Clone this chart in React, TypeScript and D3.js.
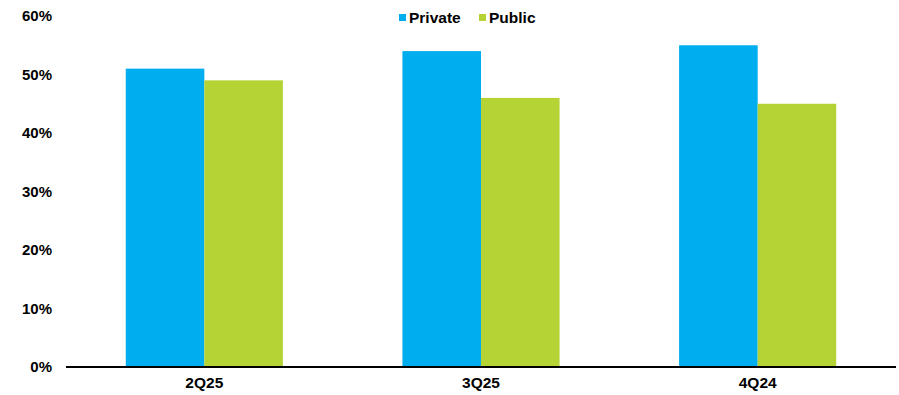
import React from "react";
import * as d3 from "d3";

const categories = ["2Q25", "3Q25", "4Q24"];
const seriesNames = ["Private", "Public"];
const privateValues = [51, 54, 55];
const publicValues = [49, 46, 45];
const yTicks = [0, 10, 20, 30, 40, 50, 60];
const colors = ["#00AEEF", "#B5D335"];

const W = 899;
const H = 395;
const margin = { top: 16, right: 3, bottom: 28, left: 66 };

export default function App() {
  const x = d3
    .scaleBand<string>()
    .domain(categories)
    .range([margin.left, W - margin.right])
    .paddingInner(0.432)
    .paddingOuter(0.216);
  const x1 = d3.scaleBand<string>().domain(seriesNames).range([0, x.bandwidth()]);
  const y = d3.scaleLinear().domain([0, 60]).range([H - margin.bottom, margin.top]);
  const series = [privateValues, publicValues];
  const font = "'Liberation Sans', Arial, sans-serif";

  return (
    <svg width={W} height={H} style={{ position: "absolute", left: 0, top: 0 }} fontFamily={font}>
      <rect width={W} height={H} fill="#fff" />
      {yTicks.map((t) => (
        <text key={t} x={52} y={y(t)} dy="0.35em" textAnchor="end" fontSize={15} fontWeight="bold" fill="#000">
          {t}%
        </text>
      ))}
      {categories.map((c, i) =>
        seriesNames.map((s, j) => (
          <rect
            key={c + s}
            x={(x(c) ?? 0) + (x1(s) ?? 0)}
            y={y(series[j][i])}
            width={x1.bandwidth()}
            height={y(0) - y(series[j][i])}
            fill={colors[j]}
          />
        ))
      )}
      <line x1={margin.left} x2={W - margin.right} y1={y(0)} y2={y(0)} stroke="#000" strokeWidth={2} />
      {categories.map((c) => (
        <text key={c} x={(x(c) ?? 0) + x.bandwidth() / 2} y={383} dy="0.35em" textAnchor="middle" fontSize={15.5} fontWeight="bold" fill="#000">
          {c}
        </text>
      ))}
      <g>
        <rect x={399} y={14} width={7} height={7} fill={colors[0]} />
        <text x={409} y={17.5} dy="0.35em" fontSize={15.5} fontWeight="bold" fill="#000">Private</text>
        <rect x={479} y={14} width={7} height={7} fill={colors[1]} />
        <text x={489} y={17.5} dy="0.35em" fontSize={15.5} fontWeight="bold" fill="#000">Public</text>
      </g>
    </svg>
  );
}
